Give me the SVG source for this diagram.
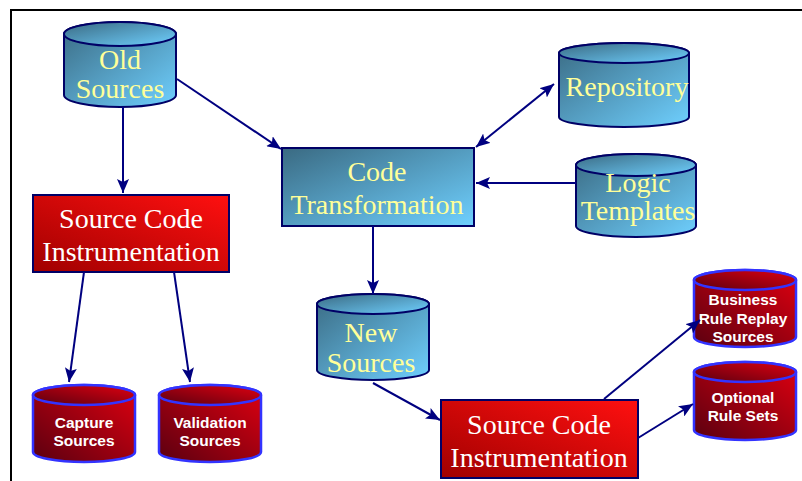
<svg xmlns="http://www.w3.org/2000/svg" width="802" height="481" viewBox="0 0 802 481">
<defs>
<linearGradient id="gb" x1="0" y1="0" x2="1" y2="1">
<stop offset="0" stop-color="#3a6a82"/>
<stop offset="1" stop-color="#6fd0ff"/>
</linearGradient>
<linearGradient id="gr" x1="0" y1="1" x2="1" y2="0">
<stop offset="0" stop-color="#a00000"/>
<stop offset="1" stop-color="#ff1010"/>
</linearGradient>
<linearGradient id="grc" x1="0" y1="1" x2="1" y2="0">
<stop offset="0" stop-color="#5a0010"/>
<stop offset="1" stop-color="#e00010"/>
</linearGradient>
<marker id="ah" viewBox="0 0 14 12" refX="14" refY="6" markerWidth="14" markerHeight="12" markerUnits="userSpaceOnUse" orient="auto-start-reverse">
<path d="M0,0 L14,6 L0,12 L3,6 Z" fill="#000080"/>
</marker>
</defs>
<style>
.bc{fill:url(#gb);stroke:#000066;stroke-width:2}
.rb{fill:url(#gr);stroke:#000066;stroke-width:2}
.rc{fill:url(#grc);stroke:#3333ff;stroke-width:2.5}
.ty{font-family:'Liberation Serif','Times New Roman',serif;font-size:28px;fill:#ffff99;text-anchor:middle}
.tw{font-family:'Liberation Serif','Times New Roman',serif;font-size:28px;fill:#ffffff;text-anchor:middle}
.ts{font-family:'Liberation Sans',Arial,sans-serif;font-weight:bold;font-size:15.5px;fill:#ffffff;text-anchor:middle}
.c{stroke:#000080;stroke-width:2;fill:none;marker-end:url(#ah)}
</style>
<path d="M11,481 L11,10 L802,10" fill="none" stroke="#000" stroke-width="2"/>
<g id="old-sources">
<path class="bc" d="M64,34 L64,95 A56,12 0 0 0 176,95 L176,34 A56,12 0 0 0 64,34 Z"/>
<ellipse class="bc" cx="120" cy="34" rx="56" ry="12"/>
<text class="ty" x="120" y="69">Old</text>
<text class="ty" x="120" y="98">Sources</text>
</g>
<g id="repository">
<path class="bc" d="M559,53 L559,117 A65,10 0 0 0 689,117 L689,53 A65,10 0 0 0 559,53 Z"/>
<ellipse class="bc" cx="624" cy="53" rx="65" ry="10"/>
<text class="ty" x="627" y="96">Repository</text>
</g>
<g id="logic-templates">
<path class="bc" d="M576,165 L576,226 A60,11 0 0 0 696,226 L696,165 A60,11 0 0 0 576,165 Z"/>
<ellipse class="bc" cx="636" cy="165" rx="60" ry="11"/>
<text class="ty" x="638" y="192">Logic</text>
<text class="ty" x="638" y="220">Templates</text>
</g>
<g id="code-transformation">
<rect class="bc" x="282" y="148" width="192" height="78"/>
<text class="ty" x="377" y="181">Code</text>
<text class="ty" x="377" y="214">Transformation</text>
</g>
<g id="new-sources">
<path class="bc" d="M317,304 L317,370 A56,10 0 0 0 429,370 L429,304 A56,10 0 0 0 317,304 Z"/>
<ellipse class="bc" cx="373" cy="304" rx="56" ry="10"/>
<text class="ty" x="371" y="342">New</text>
<text class="ty" x="371" y="372">Sources</text>
</g>
<g id="sci-1">
<rect class="rb" x="33" y="195" width="196" height="77"/>
<text class="tw" x="131" y="228">Source Code</text>
<text class="tw" x="131" y="261">Instrumentation</text>
</g>
<g id="sci-2">
<rect class="rb" x="441" y="400" width="197" height="78"/>
<text class="tw" x="539" y="434">Source Code</text>
<text class="tw" x="539" y="467">Instrumentation</text>
</g>
<g id="capture-sources">
<path class="rc" d="M33,395 L33,452 A51,10 0 0 0 135,452 L135,395 A51,10 0 0 0 33,395 Z"/>
<ellipse class="rc" cx="84" cy="395" rx="51" ry="10"/>
<text class="ts" x="84" y="428">Capture</text>
<text class="ts" x="84" y="446">Sources</text>
</g>
<g id="validation-sources">
<path class="rc" d="M159,395 L159,452 A51,10 0 0 0 261,452 L261,395 A51,10 0 0 0 159,395 Z"/>
<ellipse class="rc" cx="210" cy="395" rx="51" ry="10"/>
<text class="ts" x="210" y="428">Validation</text>
<text class="ts" x="210" y="446">Sources</text>
</g>
<g id="business-rule-replay-sources">
<path class="rc" d="M694,280 L694,337 A51,10 0 0 0 796,337 L796,280 A51,10 0 0 0 694,280 Z"/>
<ellipse class="rc" cx="745" cy="280" rx="51" ry="10"/>
<text class="ts" x="743" y="305">Business</text>
<text class="ts" x="743" y="324">Rule Replay</text>
<text class="ts" x="743" y="342">Sources</text>
</g>
<g id="optional-rule-sets">
<path class="rc" d="M694,372 L694,430 A51,10 0 0 0 796,430 L796,372 A51,10 0 0 0 694,372 Z"/>
<ellipse class="rc" cx="745" cy="372" rx="51" ry="10"/>
<text class="ts" x="743" y="403">Optional</text>
<text class="ts" x="743" y="421">Rule Sets</text>
</g>
<g id="connectors">
<line class="c" x1="123" y1="107" x2="123" y2="193"/>
<line class="c" x1="177" y1="79" x2="281" y2="149"/>
<line class="c" x1="476" y1="147" x2="554" y2="84" style="marker-start:url(#ah)"/>
<line class="c" x1="576" y1="183" x2="476" y2="183"/>
<line class="c" x1="373" y1="226" x2="373" y2="294"/>
<line class="c" x1="373" y1="383" x2="440" y2="420"/>
<line class="c" x1="84" y1="272" x2="69" y2="382"/>
<line class="c" x1="174" y1="272" x2="190" y2="382"/>
<line class="c" x1="604" y1="399" x2="700" y2="320"/>
<line class="c" x1="638" y1="438" x2="693" y2="404"/>
</g>
</svg>
